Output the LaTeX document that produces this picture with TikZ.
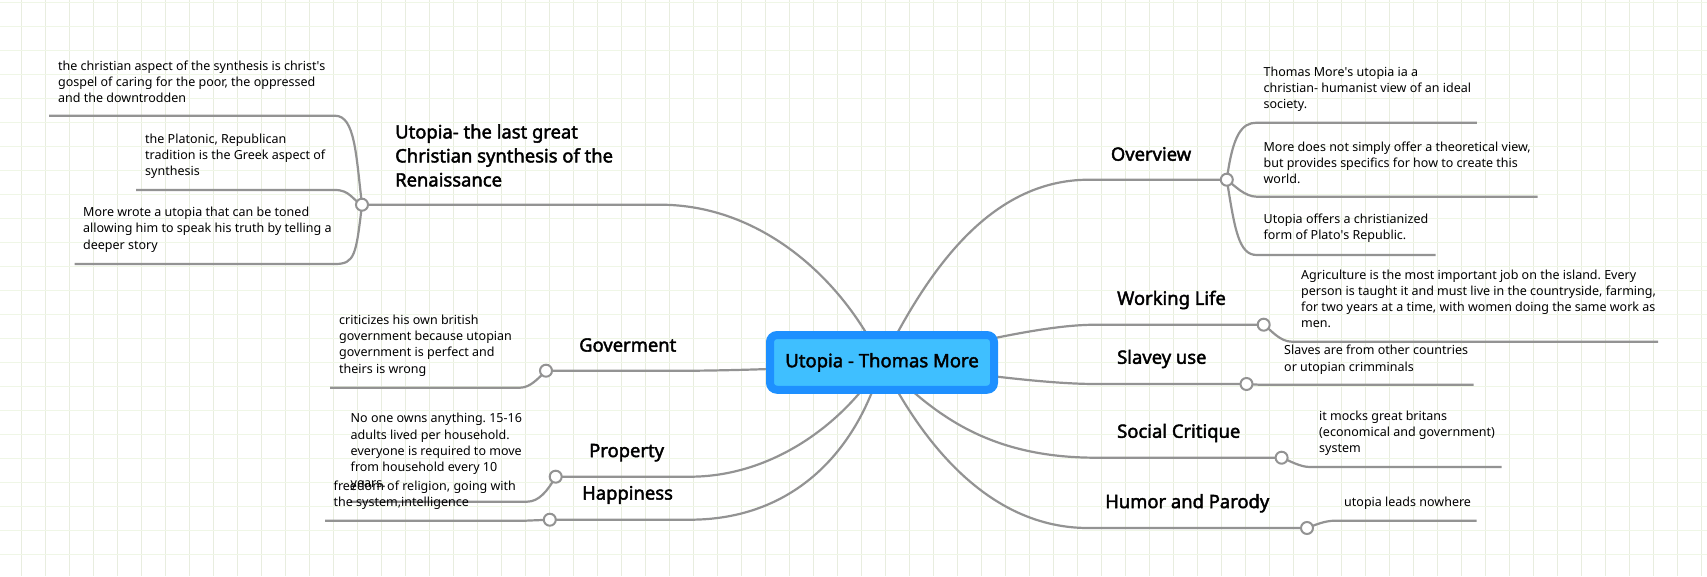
\documentclass[tikz,border=0pt]{standalone}
\usepackage{fontspec}
\setmainfont{Noto Sans}
\newfontfamily\topicfont{Noto Sans}[FakeBold=2.2]
\usepackage[dvipsnames,svgnames]{xcolor}
\usetikzlibrary{backgrounds}
\definecolor{hubfill}{HTML}{3FBFFF}
\definecolor{hubdraw}{HTML}{1E90FF}
\definecolor{branchgray}{HTML}{939393}
\definecolor{gridh}{HTML}{EFF6E6}
\definecolor{gridv}{HTML}{E8EDDF}
\frenchspacing
\tikzset{hubnode/.style={rectangle, rounded corners=7pt, draw=hubdraw, fill=hubfill, line width=8pt, minimum width=224pt, minimum height=54.7pt, inner sep=0pt, outer sep=0pt, font=\fontsize{18.5}{22}\topicfont},
topic/.style={anchor=west, inner sep=0pt, align=left, font=\fontsize{18.4}{24}\topicfont},
note/.style={anchor=west, inner sep=0pt, align=left, font=\fontsize{12.5}{16.2}\selectfont},
knob/.style={circle, draw=branchgray, fill=white, line width=2pt, minimum size=12pt, inner sep=0pt},
branch/.style={draw=branchgray, line width=2.2pt}}

\begin{document}
\begin{tikzpicture}[x=1pt,y=-1pt]
\useasboundingbox (0,0) rectangle (1707,576);
\node[hubnode] (hub) at (882,362.4) {Utopia - Thomas More};
% left side
\node[topic] (lastsynth) at (395,155.5) {Utopia- the last great\\Christian synthesis of the\\Renaissance};
\node[knob] (lastknob) at (362,204.7) {};
\node[note] (christian) at (58,81.5) {the christian aspect of the synthesis is christ\textquotesingle s\\gospel of caring for the poor, the oppressed\\and the downtrodden};
\node[note] (platonic) at (145,156.5) {the Platonic, Republican\\tradition is the Greek aspect of\\synthesis};
\node[note] (toned) at (83,229.7) {More wrote a utopia that can be toned\\allowing him to speak his truth by telling a\\deeper story};
\node[topic] (goverment) at (579,345) {Goverment};
\node[knob] (govknob) at (546,370.7) {};
\node[note] (british) at (339,345.5) {criticizes his own british\\government because utopian\\government is perfect and\\theirs is wrong};
\node[topic] (property) at (589,452.7) {Property};
\node[knob] (propknob) at (555.7,476.7) {};
\node[note] (owns) at (350.5,452) {No one owns anything. 15-16\\adults lived per household.\\everyone is required to move\\from household every 10\\years.};
\node[topic] (happiness) at (582,495) {Happiness};
\node[knob] (happyknob) at (549.8,519.7) {};
\node[note] (religion) at (333.5,495.2) {freedom of religion, going with\\the system,intelligence};
% right side
\node[topic] (overview) at (1110.7,154) {Overview};
\node[knob] (overknob) at (1226.8,179.7) {};
\node[note] (humanist) at (1263.4,89) {Thomas More\textquotesingle s utopia ia a\\christian- humanist view of an ideal\\society.};
\node[note] (specifics) at (1263.4,163) {More does not simply offer a theoretical view,\\but provides specifics for how to create this\\world.};
\node[note] (plato) at (1263.4,228.5) {Utopia offers a christianized\\form of Plato\textquotesingle s Republic.};
\node[topic] (working) at (1117,300) {Working Life};
\node[knob] (workknob) at (1263.7,324.7) {};
\node[note] (farming) at (1301,298.7) {Agriculture is the most important job on the island. Every\\person is taught it and must live in the countryside, farming,\\for two years at a time, with women doing the same work as\\men.};
\node[topic] (slavey) at (1117,359) {Slavey use};
\node[knob] (slaveknob) at (1246.5,384) {};
\node[note] (slaves) at (1284,359.7) {Slaves are from other countries\\or utopian crimminals};
\node[topic] (critique) at (1117,433) {Social Critique};
\node[knob] (critknob) at (1281.6,457.7) {};
\node[note] (britans) at (1319,433) {it mocks great britans\\(economical and government)\\system};
\node[topic] (humor) at (1105,503.3) {Humor and Parody};
\node[knob] (humorknob) at (1307,528) {};
\node[note] (nowhere) at (1344,503.3) {utopia leads nowhere};
% ends of the underlines
\coordinate (christiana) at (335,115.7); \coordinate (christianb) at (49,115.7);
\coordinate (platonica) at (335,190); \coordinate (platonicb) at (136,190);
\coordinate (toneda) at (335,264); \coordinate (tonedb) at (74.5,264);
\coordinate (britisha) at (520,387.7); \coordinate (britishb) at (330,387.7);
\coordinate (ownsa) at (527,501.7); \coordinate (ownsb) at (350,501.7);
\coordinate (religiona) at (525,520.7); \coordinate (religionb) at (325,520.7);
\coordinate (humanista) at (1256.7,122.7); \coordinate (humanistb) at (1476.8,122.7);
\coordinate (specificsa) at (1256.7,196.7); \coordinate (specificsb) at (1537.5,196.7);
\coordinate (platoa) at (1256.7,255); \coordinate (platob) at (1435.7,255);
\coordinate (farminga) at (1292,341.7); \coordinate (farmingb) at (1658,341.7);
\coordinate (slavesa) at (1259,384.7); \coordinate (slavesb) at (1473.5,384.7);
\coordinate (britansa) at (1310,467); \coordinate (britansb) at (1501.6,467);
\coordinate (nowherea) at (1334.7,520.7); \coordinate (nowhereb) at (1476.7,520.7);
\begin{scope}[on background layer]
\foreach \i in {0,...,70}
  \draw[gridv,line width=1pt] ({21.7+24*\i},0) -- ({21.7+24*\i},576);
\foreach \j in {0,...,23}
  \draw[gridh,line width=1pt] (0,{2.7+24*\j}) -- (1707,{2.7+24*\j});
\draw[branch] (lastknob.center) -- (660,204.7) .. controls +(100,0) and +(-40,-85) .. (hub.center);
\draw[branch] (govknob.center) -- (690,370.7) .. controls +(30,0) and +(-60,6) .. (hub.center);
\draw[branch] (propknob.center) -- (690,476.7) .. controls +(80,0) and +(-40,64) .. (hub.center);
\draw[branch] (happyknob.center) -- (690,519.7) .. controls +(100,0) and +(-26,93) .. (hub.center);
\draw[branch] (overknob.center) -- (1089,179.7) .. controls +(-100,0) and +(45,-90) .. (hub.center);
\draw[branch] (workknob.center) -- (1096,324.7) .. controls +(-56,0) and +(78,-16) .. (hub.center);
\draw[branch] (slaveknob.center) -- (1096,384) .. controls +(-56,0) and +(78,9.3) .. (hub.center);
\draw[branch] (critknob.center) -- (1096,457.7) .. controls +(-110,0) and +(50,50) .. (hub.center);
\draw[branch] (humorknob.center) -- (1088,528) .. controls +(-110,0) and +(30,60) .. (hub.center);
% sub branches
\draw[branch] (lastknob.center) .. controls +(-6,-50) and +(20,0) .. (christiana) -- (christianb);
\draw[branch] (lastknob.center) .. controls +(-10,-5) and +(15,0) .. (platonica) -- (platonicb);
\draw[branch] (lastknob.center) .. controls +(-6,50) and +(20,0) .. (toneda) -- (tonedb);
\draw[branch] (govknob.center) .. controls +(-8,8) and +(10,0) .. (britisha) -- (britishb);
\draw[branch] (propknob.center) .. controls +(-8,14) and +(12,0) .. (ownsa) -- (ownsb);
\draw[branch] (happyknob.center) -- (religiona) -- (religionb);
\draw[branch] (overknob.center) .. controls +(6,-45) and +(-15,0) .. (humanista) -- (humanistb);
\draw[branch] (overknob.center) .. controls +(8,6) and +(-12,0) .. (specificsa) -- (specificsb);
\draw[branch] (overknob.center) .. controls +(8,50) and +(-18,0) .. (platoa) -- (platob);
\draw[branch] (workknob.center) .. controls +(8,6) and +(-12,0) .. (farminga) -- (farmingb);
\draw[branch] (slaveknob.center) -- (slavesa) -- (slavesb);
\draw[branch] (critknob.center) .. controls +(8,3) and +(-10,0) .. (britansa) -- (britansb);
\draw[branch] (humorknob.center) .. controls +(8,-3) and +(-10,0) .. (nowherea) -- (nowhereb);
\end{scope}
\end{tikzpicture}
\end{document}
